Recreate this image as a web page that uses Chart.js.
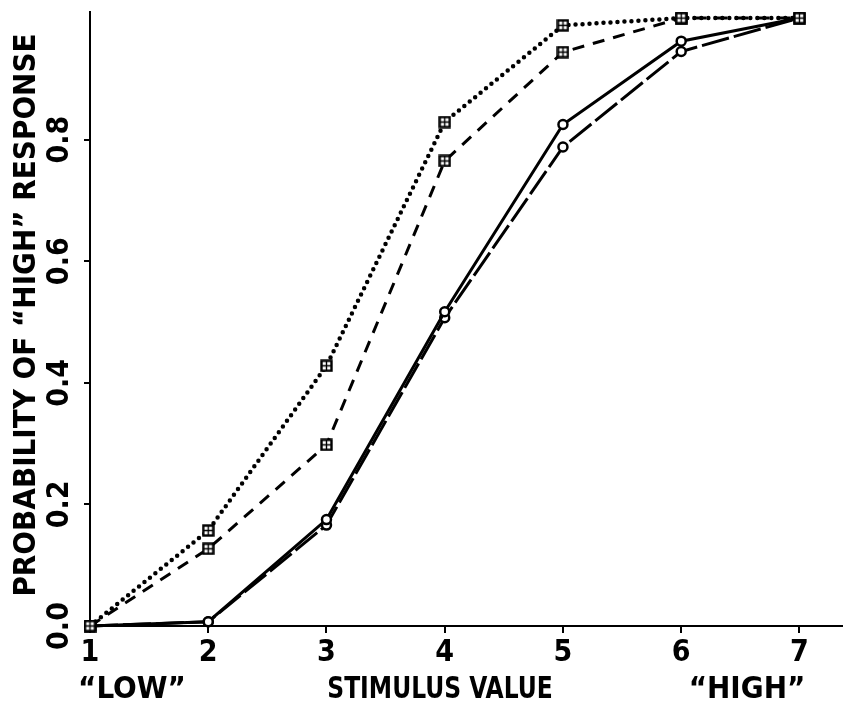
<!DOCTYPE html>
<html>
<head>
<meta charset="utf-8">
<script src="https://cdn.jsdelivr.net/npm/chart.js@4"></script>
<style>
  body { margin: 0; background: #fff; }
  #wrap { width: 854px; height: 709px; }
</style>
</head>
<body>
<div id="wrap"><canvas id="probChart" width="854" height="709"></canvas></div>
<script>
// stimulus values on the x axis
const stimulus = [1, 2, 3, 4, 5, 6, 7];
const xTicks = [1, 2, 3, 4, 5, 6, 7];
const yTicks = [0, 0.2, 0.4, 0.6, 0.8];

// four conditions
const dottedSquares = [0.0, 0.157, 0.428, 0.829, 0.988, 1.0, 1.0];
const dashedSquares = [0.0, 0.127, 0.298, 0.765, 0.944, 1.0, 1.0];
const solidCircles = [0.0, 0.007, 0.175, 0.517, 0.825, 0.962, 1.0];
const longDashCircles = [0.0, 0.007, 0.166, 0.507, 0.788, 0.945, 1.0];

const FONT = '"DejaVu Sans Condensed", "DejaVu Sans", sans-serif';

// square with a cross inside, like the printed marker
function squareMarker() {
    const c = document.createElement('canvas');
    c.width = 13; c.height = 13;
    const g = c.getContext('2d');
    g.fillStyle = '#fff';
    g.fillRect(1, 1, 11, 11);
    g.strokeStyle = '#000';
    g.lineWidth = 2.4;
    g.strokeRect(1.5, 1.5, 10, 10);
    g.lineWidth = 1.4;
    g.beginPath();
    g.moveTo(6.5, 2); g.lineTo(6.5, 11);
    g.moveTo(2, 6.5); g.lineTo(11, 6.5);
    g.stroke();
    return c;
}
const sq = squareMarker();

function toPoints(vals) {
    return stimulus.map((x, i) => ({ x: x, y: vals[i] }));
}

const base = {
    borderColor: '#000',
    backgroundColor: '#fff',
    pointBorderColor: '#000',
    pointBackgroundColor: '#fff',
    borderWidth: 3,
    tension: 0,
    fill: false,
    clip: false
};

// text that the scales do not draw themselves
const textPlugin = {
    id: 'figText',
    afterDraw(chart) {
        const ctx = chart.ctx;
        const y = chart.scales.y;
        ctx.save();
        ctx.fillStyle = '#000';
        ctx.font = 'bold 30px ' + FONT;
        ctx.textAlign = 'center';
        ctx.textBaseline = 'middle';
        yTicks.forEach(v => {
            ctx.save();
            ctx.translate(60, y.getPixelForValue(v));
            ctx.rotate(-Math.PI / 2);
            ctx.fillText(v.toFixed(1), 0, 0);
            ctx.restore();
        });
        ctx.save();
        ctx.translate(27, 315);
        ctx.rotate(-Math.PI / 2);
        ctx.font = 'bold 31px ' + FONT;
        ctx.fillText('PROBABILITY OF “HIGH” RESPONSE', 0, 0);
        ctx.restore();
        ctx.font = 'bold 31px ' + FONT;
        ctx.fillText('“LOW”', 132, 690);
        ctx.fillText('“HIGH”', 747, 690);
        ctx.save();
        ctx.translate(440, 690);
        ctx.scale(0.84, 1);
        ctx.fillText('STIMULUS VALUE', 0, 0);
        ctx.restore();
        ctx.restore();
    }
};

new Chart(document.getElementById('probChart'), {
    type: 'line',
    data: {
        datasets: [
            Object.assign({}, base, {
                label: 'dotted',
                data: toPoints(dottedSquares),
                borderDash: [0, 7],
                borderCapStyle: 'round',
                borderWidth: 4.5,
                pointStyle: sq
            }),
            Object.assign({}, base, {
                label: 'dashed',
                data: toPoints(dashedSquares),
                borderDash: [12, 9],
                pointStyle: sq
            }),
            Object.assign({}, base, {
                label: 'solid',
                data: toPoints(solidCircles),
                pointStyle: 'circle',
                pointRadius: 4.5,
                pointBorderWidth: 2.5
            }),
            Object.assign({}, base, {
                label: 'long dash',
                data: toPoints(longDashCircles),
                borderDash: [28, 5],
                pointStyle: 'circle',
                pointRadius: 4.5,
                pointBorderWidth: 2.5
            })
        ]
    },
    options: {
        responsive: false,
        animation: false,
        layout: { padding: { top: 12, right: 12, left: 0, bottom: 0 } },
        plugins: {
            legend: { display: false },
            tooltip: { enabled: false }
        },
        scales: {
            x: {
                type: 'linear',
                min: 1,
                max: 7.36,
                afterBuildTicks: s => { s.ticks = xTicks.map(v => ({ value: v })); },
                afterFit: s => { s.height = 83; },
                border: { display: true, color: '#000', width: 2 },
                grid: { drawOnChartArea: false, drawTicks: true, tickLength: 7, color: '#000', lineWidth: 2 },
                ticks: {
                    color: '#000',
                    padding: 2,
                    maxRotation: 0,
                    font: { family: FONT, size: 30, weight: 'bold' }
                }
            },
            y: {
                min: 0,
                max: 1.01,
                afterBuildTicks: s => { s.ticks = yTicks.map(v => ({ value: v })); },
                afterFit: s => { s.width = 90; },
                border: { display: true, color: '#000', width: 2 },
                grid: { drawOnChartArea: false, drawTicks: true, tickLength: 6, color: '#000', lineWidth: 2 },
                ticks: { display: false }
            }
        }
    },
    plugins: [textPlugin]
});
</script>
</body>
</html>
